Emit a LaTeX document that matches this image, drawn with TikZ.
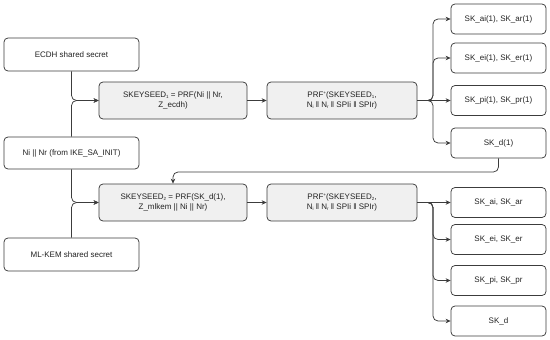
\documentclass[tikz,border=0pt]{standalone}
\usepackage{fontspec}
\setmainfont{Liberation Sans}
\usetikzlibrary{arrows.meta}
\definecolor{boxline}{HTML}{3C3C3C}
\definecolor{boxfill}{HTML}{F0F0F0}
\definecolor{txt}{HTML}{222222}
\newcommand{\tinysub}[1]{\raisebox{-0.6pt}{\fontsize{4.5}{5}\selectfont #1}}
\newcommand{\tinysup}[1]{\raisebox{3pt}{\fontsize{4.5}{5}\selectfont #1}}
\tikzset{
  base/.style={draw=boxline, line width=0.75pt, rounded corners=4pt, align=center,
    font=\fontsize{8}{10}\selectfont, text=txt, inner sep=2pt},
  plainbox/.style={base, fill=white},
  graybox/.style={base, fill=boxfill},
  conn/.style={draw=boxline, line width=0.75pt, rounded corners=5pt},
  arr/.style={conn, -{Stealth[length=5pt,width=4.5pt]}}
}
\begin{document}
\begin{tikzpicture}[x=1pt,y=-1pt]
\useasboundingbox (0,0) rectangle (550,340);
% left inputs
\node[plainbox, minimum width=135pt, minimum height=33pt] (ecdh) at (71.5,54.5) {ECDH shared secret};
\node[plainbox, minimum width=135pt, minimum height=32pt] (ni) at (71.5,153) {Ni || Nr (from IKE\_SA\_INIT)};
\node[plainbox, minimum width=135pt, minimum height=33pt] (mlkem) at (71.5,254.5) {ML-KEM shared secret};
% seeds
\node[graybox, minimum width=148pt, minimum height=37pt] (s1) at (173,100.5) {SKEYSEED\tinysub{1} = PRF(Ni || Nr,\\Z\_ecdh)};
\node[graybox, minimum width=148pt, minimum height=37pt] (s2) at (173,202.5) {SKEYSEED\tinysub{2} = PRF(SK\_d(1),\\Z\_mlkem || Ni || Nr)};
% prf+
\node[graybox, minimum width=150pt, minimum height=37pt] (p1) at (342,100.5) {PRF\tinysup{+}(SKEYSEED\tinysub{1},\\N\tinysub{i} ‖ N\tinysub{r} ‖ SPIi ‖ SPIr)};
\node[graybox, minimum width=150pt, minimum height=37pt] (p2) at (342,202.5) {PRF\tinysup{+}(SKEYSEED\tinysub{2},\\N\tinysub{i} ‖ N\tinysub{r} ‖ SPIi ‖ SPIr)};
% outputs
\node[plainbox, minimum width=95pt, minimum height=30pt] (a1) at (498.5,19) {SK\_ai(1), SK\_ar(1)};
\node[plainbox, minimum width=95pt, minimum height=30pt] (e1) at (498.5,58) {SK\_ei(1), SK\_er(1)};
\node[plainbox, minimum width=95pt, minimum height=30pt] (q1) at (498.5,100.5) {SK\_pi(1), SK\_pr(1)};
\node[plainbox, minimum width=95pt, minimum height=30pt] (d1) at (498.5,143) {SK\_d(1)};
\node[plainbox, minimum width=95pt, minimum height=30pt] (a2) at (498.5,202.5) {SK\_ai, SK\_ar};
\node[plainbox, minimum width=95pt, minimum height=30pt] (e2) at (498.5,239.5) {SK\_ei, SK\_er};
\node[plainbox, minimum width=95pt, minimum height=30pt] (q2) at (498.5,280.5) {SK\_pi, SK\_pr};
\node[plainbox, minimum width=95pt, minimum height=30pt] (d2) at (498.5,321) {SK\_d};
% branch points
\coordinate (b1) at (433,100.5);
\coordinate (b2) at (433,202.5);
% inputs to seeds
\draw[arr] (ecdh.south) |- (s1.west);
\draw[arr] (ni.north) |- (s1.west);
\draw[arr] (ni.south) |- (s2.west);
\draw[arr] (mlkem.north) |- (s2.west);
% seeds to prf+
\draw[arr] (s1.east) -- (p1.west);
\draw[arr] (s2.east) -- (p2.west);
% prf+ to outputs
\draw[arr] (p1.east) -- (b1) |- (a1.west);
\draw[arr] (p1.east) -- (b1) |- (e1.west);
\draw[arr] (p1.east) -- (q1.west);
\draw[arr] (p1.east) -- (b1) |- (d1.west);
\draw[arr] (p2.east) -- (a2.west);
\draw[arr] (p2.east) -- (b2) |- (e2.west);
\draw[arr] (p2.east) -- (b2) |- (q2.west);
\draw[arr] (p2.east) -- (b2) |- (d2.west);
% feedback
\coordinate (fb) at (498.5,172);
\draw[arr] (d1.south) -- (fb) -| (s2.north);
\end{tikzpicture}
\end{document}
